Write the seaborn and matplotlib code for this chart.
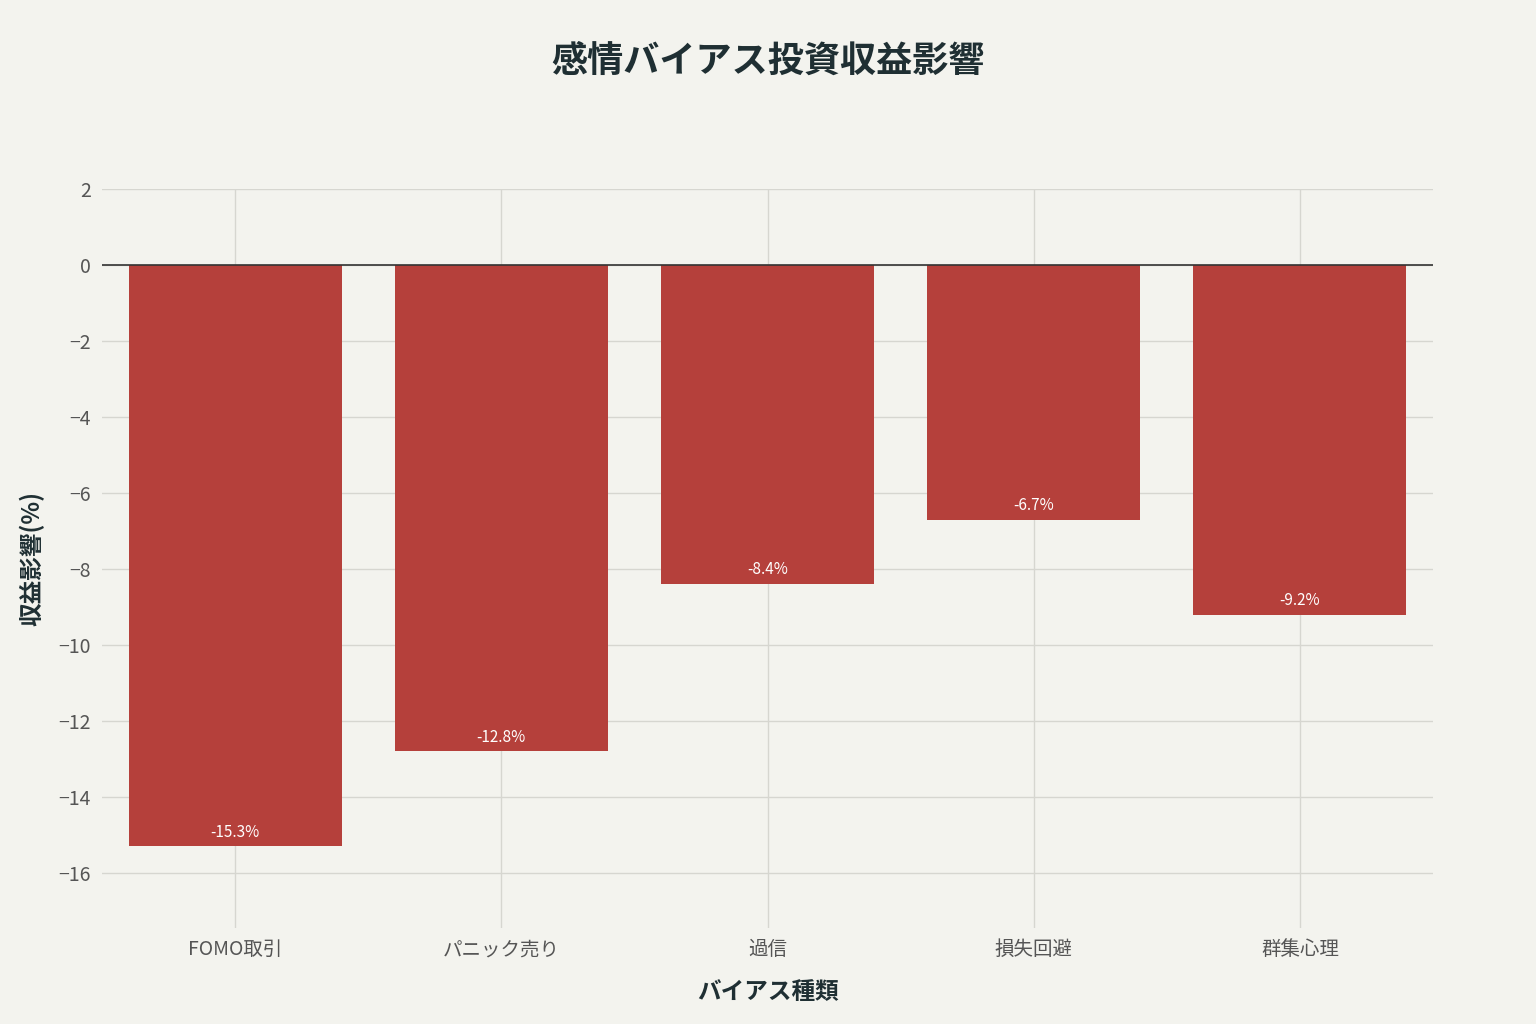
import matplotlib
matplotlib.use("Agg")
import matplotlib.pyplot as plt
import seaborn as sns
import pandas as pd

categories = ["FOMO取引", "パニック売り", "過信", "損失回避", "群集心理"]
values = [-15.3, -12.8, -8.4, -6.7, -9.2]
yticks = [2, 0, -2, -4, -6, -8, -10, -12, -14, -16]

plt.rcParams["font.family"] = "Noto Sans CJK JP"
plt.rcParams["axes.unicode_minus"] = True
bg = "#F3F3EE"
df = pd.DataFrame({"cat": categories, "val": values})

fig = plt.figure(figsize=(15.36, 10.24), dpi=100, facecolor=bg)
ax = fig.add_axes([0.0664, 0.0938, 0.8666, 0.7216])
ax.set_facecolor(bg)
sns.barplot(data=df, x="cat", y="val", color="#B5403B", saturation=1, width=0.8, ax=ax, zorder=2)
ax.set_ylim(-17.45, 2)
ax.set_xlim(-0.5, 4.5)
ax.set_yticks(yticks)
ax.set_yticklabels([f"{t}".replace("-", "\u2212") for t in yticks])
ax.grid(True, color="#D6D6D0", linewidth=1, zorder=0)
ax.axhline(0, color="#333333", linewidth=1.2, zorder=3)
for s in ax.spines.values():
    s.set_visible(False)
ax.tick_params(length=0, labelsize=14, colors="#555555", pad=8)
ax.tick_params(axis="x", pad=8)
for i, v in enumerate(values):
    ax.text(i, v + 0.15, f"{v}%", ha="center", va="bottom", color="white", fontsize=11, zorder=4)
ax.set_xlabel("バイアス種類", fontsize=17, fontweight="bold", color="#1f2f33", labelpad=14)
ax.set_ylabel("収益影響(%)", fontsize=17, fontweight="bold", color="#1f2f33", labelpad=10)
fig.text(0.5, 0.94, "感情バイアス投資収益影響", ha="center", va="center", fontsize=26, fontweight="bold", color="#1f2f33")
fig.savefig("out.png", dpi=100, facecolor=bg)
